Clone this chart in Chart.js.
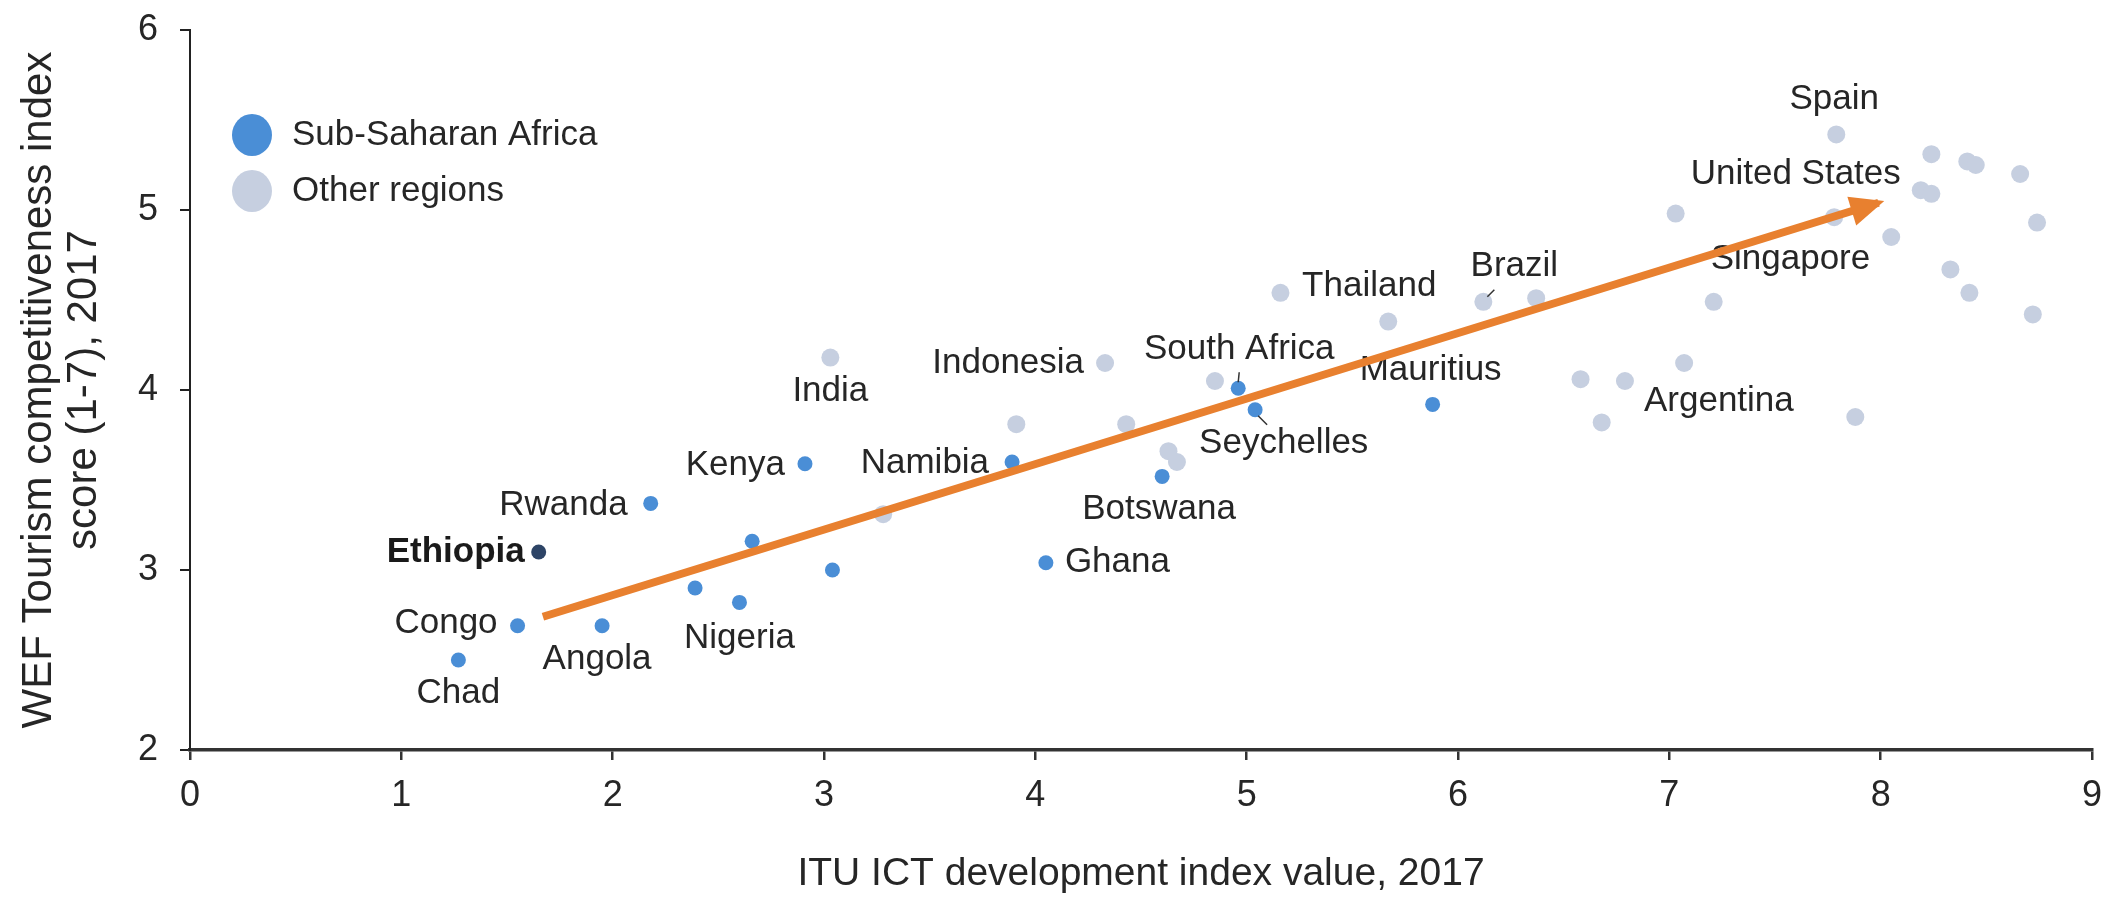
<!DOCTYPE html>
<html>
<head>
<meta charset="utf-8">
<title>Tourism competitiveness vs ICT development</title>
<script src="https://cdn.jsdelivr.net/npm/chart.js@4.4.1/dist/chart.umd.min.js"></script>
<style>
  html, body { margin: 0; padding: 0; background: #fff; }
  #wrap { width: 2116px; height: 905px; }
</style>
</head>
<body>
<div id="wrap"><canvas id="my-chart" width="2116" height="905"></canvas></div>
<script>
// Sub-Saharan Africa
const ssaNames = ['Chad', 'Congo', 'Ethiopia', 'Angola', 'Rwanda', '', 'Nigeria', '', 'Kenya', '', 'Namibia', 'Ghana', 'Botswana', 'South Africa', 'Seychelles', 'Mauritius'];
const ssaIct = [1.27, 1.55, 1.65, 1.95, 2.18, 2.39, 2.60, 2.66, 2.91, 3.04, 3.89, 4.05, 4.60, 4.96, 5.04, 5.88];
const ssaTourism = [2.50, 2.69, 3.10, 2.69, 3.37, 2.90, 2.82, 3.16, 3.59, 3.00, 3.60, 3.04, 3.52, 4.01, 3.89, 3.92];

// Other regions
const otherNames = ['India', '', '', 'Indonesia', '', '', '', '', '', 'Thailand', 'Brazil', '', '', '', 'Argentina', '', '', '', '', 'Spain', '', 'Singapore', 'United States', '', '', '', '', '', '', '', '', ''];
const otherIct = [3.03, 3.28, 3.91, 4.33, 4.43, 4.63, 4.67, 4.85, 5.16, 5.67, 6.12, 6.37, 6.58, 6.68, 6.79, 7.03, 7.07, 7.21, 7.78, 7.79, 7.88, 8.05, 8.19, 8.24, 8.24, 8.33, 8.41, 8.42, 8.45, 8.66, 8.72, 8.74];
const otherTourism = [4.18, 3.31, 3.81, 4.15, 3.81, 3.66, 3.60, 4.05, 4.54, 4.38, 4.49, 4.51, 4.06, 3.82, 4.05, 4.98, 4.15, 4.49, 4.96, 5.42, 3.85, 4.85, 5.11, 5.09, 5.31, 4.67, 5.27, 4.54, 5.25, 5.20, 4.42, 4.93];

// trend arrow
const trendIct = [1.67, 7.99];
const trendTourism = [2.74, 5.04];

const xTicks = [0, 1, 2, 3, 4, 5, 6, 7, 8, 9];
const yTicks = [2, 3, 4, 5, 6];

const FONT = "'Liberation Sans', Arial, Helvetica, sans-serif";
const TEXT = '#262626';
const BLUE = '#4A8ED6';
const GREY = '#C6CFE0';
const DARK = '#2D4466';
const ORANGE = '#E8802F';

// where each country name sits relative to its dot
const labelPlacement = {
  'Chad': {dx: 0, dy: 33, align: 'center'},
  'Congo': {dx: -20, dy: -2, align: 'right'},
  'Ethiopia': {dx: -14, dy: 0, align: 'right', bold: true},
  'Angola': {dx: -5, dy: 34, align: 'center'},
  'Rwanda': {dx: -23, dy: 2, align: 'right'},
  'Nigeria': {dx: 0, dy: 36, align: 'center'},
  'Kenya': {dx: -20, dy: 2, align: 'right'},
  'Namibia': {dx: -23, dy: 1, align: 'right'},
  'Ghana': {dx: 19, dy: 0, align: 'left'},
  'Botswana': {dx: -3, dy: 33, align: 'center'},
  'South Africa': {dx: 1, dy: -39, align: 'center', lead: [0, -6, 1, -16]},
  'Seychelles': {dx: -56, dy: 34, align: 'left', lead: [3, 6, 12, 15]},
  'Mauritius': {dx: -2, dy: -34, align: 'center'},
  'India': {dx: 0, dy: 34, align: 'center'},
  'Indonesia': {dx: -21, dy: 0, align: 'right'},
  'Thailand': {dx: -19, dy: -35, align: 'center'},
  'Brazil': {dx: 31, dy: -35, align: 'center', lead: [4, -5, 11, -12]},
  'Argentina': {dx: 19, dy: 20, align: 'left'},
  'Singapore': {dx: -21, dy: 22, align: 'right'},
  'United States': {dx: -20, dy: -16, align: 'right'},
  'Spain': {dx: -2, dy: -35, align: 'center'},
};

const toPoints = (xs, ys) => xs.map((x, i) => ({x: x, y: ys[i]}));

function drawCountryLabels(chart) {
  const ctx = chart.ctx;
  ctx.save();
  ctx.textBaseline = 'middle';
  chart.data.datasets.forEach((ds, di) => {
    if (!ds.names) return;
    const meta = chart.getDatasetMeta(di);
    ds.names.forEach((name, i) => {
      const p = labelPlacement[name];
      if (!name || !p) return;
      const pt = meta.data[i];
      if (p.lead) {
        ctx.strokeStyle = '#333';
        ctx.lineWidth = 1.5;
        ctx.beginPath();
        ctx.moveTo(pt.x + p.lead[0], pt.y + p.lead[1]);
        ctx.lineTo(pt.x + p.lead[2], pt.y + p.lead[3]);
        ctx.stroke();
      }
      ctx.font = (p.bold ? 'bold ' : '') + '35px ' + FONT;
      ctx.fillStyle = p.bold ? '#1a1a1a' : TEXT;
      ctx.textAlign = p.align;
      ctx.fillText(name, pt.x + p.dx, pt.y + p.dy);
    });
  });
  ctx.restore();
}

function drawArrowHead(chart) {
  const pts = chart.getDatasetMeta(0).data;
  const a = pts[pts.length - 2], b = pts[pts.length - 1];
  const len = Math.hypot(b.x - a.x, b.y - a.y);
  const ux = (b.x - a.x) / len, uy = (b.y - a.y) / len;
  const tipX = b.x + ux * 6, tipY = b.y + uy * 6;
  const headLen = 34, headHalf = 15;
  const baseX = tipX - ux * headLen, baseY = tipY - uy * headLen;
  const ctx = chart.ctx;
  ctx.save();
  ctx.fillStyle = ORANGE;
  ctx.beginPath();
  ctx.moveTo(tipX, tipY);
  ctx.lineTo(baseX - uy * headHalf, baseY + ux * headHalf);
  ctx.lineTo(baseX + uy * headHalf, baseY - ux * headHalf);
  ctx.closePath();
  ctx.fill();
  ctx.restore();
}

// names go on top of the dots but under the orange arrow
const overlays = {
  id: 'overlays',
  afterDatasetDraw: (chart, args) => {
    if (args.index === 1) drawCountryLabels(chart);
    if (args.index === 0) drawArrowHead(chart);
  }
};

// legend inside the plot, top left
const innerLegend = {
  id: 'inner_legend',
  afterDraw: (chart) => {
    const ctx = chart.ctx;
    const area = chart.chartArea;
    ctx.save();
    ctx.font = '35px ' + FONT;
    ctx.textBaseline = 'middle';
    ctx.textAlign = 'left';
    let row = 0;
    chart.data.datasets.forEach((ds) => {
      if (!ds.names) return;
      const cy = area.top + 105 + row * 56;
      ctx.fillStyle = ds.backgroundColor;
      ctx.beginPath();
      ctx.ellipse(area.left + 62, cy, 20, 21, 0, 0, Math.PI * 2);
      ctx.fill();
      ctx.fillStyle = TEXT;
      ctx.fillText(ds.label, area.left + 102, cy);
      row++;
    });
    ctx.restore();
  }
};

const data = {
  datasets: [
    {
      type: 'line',
      label: 'Trend',
      data: toPoints(trendIct, trendTourism),
      borderColor: ORANGE,
      borderWidth: 8,
      borderCapStyle: 'butt',
      pointRadius: 0,
      showLine: true,
      order: 0
    },
    {
      label: 'Sub-Saharan Africa',
      names: ssaNames,
      data: toPoints(ssaIct, ssaTourism),
      backgroundColor: BLUE,
      pointBackgroundColor: ssaNames.map(n => n === 'Ethiopia' ? DARK : BLUE),
      pointBorderWidth: 0,
      pointRadius: 7.5,
      order: 1
    },
    {
      label: 'Other regions',
      names: otherNames,
      data: toPoints(otherIct, otherTourism),
      backgroundColor: GREY,
      pointBackgroundColor: GREY,
      pointBorderWidth: 0,
      pointRadius: 9,
      order: 2
    }
  ]
};

const config = {
  type: 'scatter',
  data,
  options: {
    responsive: false,
    animation: false,
    layout: {padding: {left: 0, right: 20, top: 30, bottom: 0}},
    plugins: {
      legend: {display: false},
      tooltip: {enabled: false}
    },
    scales: {
      x: {
        type: 'linear',
        min: 0,
        max: 9,
        afterBuildTicks: (s) => { s.ticks = xTicks.map(v => ({value: v})); },
        afterFit: (s) => { s.height = 155; },
        ticks: {color: TEXT, padding: 14, font: {family: FONT, size: 36}},
        grid: {drawOnChartArea: false, tickLength: 10, color: '#333', lineWidth: 2.5},
        border: {color: '#333', width: 3.5},
        title: {
          display: true,
          text: 'ITU ICT development index value, 2017',
          color: TEXT,
          font: {family: FONT, size: 39},
          padding: {top: 0, bottom: 7}
        }
      },
      y: {
        type: 'linear',
        min: 2,
        max: 6,
        afterBuildTicks: (s) => { s.ticks = yTicks.map(v => ({value: v})); },
        afterFit: (s) => {
          s.width = 190;
          s.paddingTop = 0;
          s.paddingBottom = 0;
        },
        ticks: {color: TEXT, padding: 22, font: {family: FONT, size: 36}},
        grid: {drawOnChartArea: false, tickLength: 10, color: '#222', lineWidth: 2},
        border: {color: '#222', width: 2},
        title: {
          display: true,
          text: ['WEF Tourism competitiveness index', 'score (1-7), 2017'],
          color: TEXT,
          font: {family: FONT, size: 42, lineHeight: 1.07},
          padding: {top: 17, bottom: 0}
        }
      }
    }
  },
  plugins: [overlays, innerLegend]
};

let myChart = new Chart(document.getElementById('my-chart'), config);
</script>
</body>
</html>
